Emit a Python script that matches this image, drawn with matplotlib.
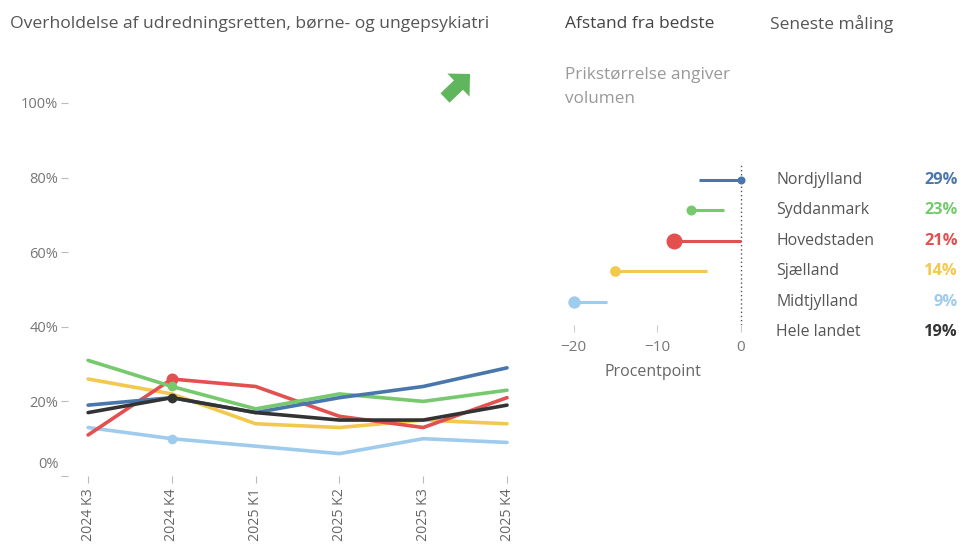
import matplotlib
matplotlib.use("Agg")
import matplotlib.pyplot as plt
import matplotlib.transforms as mtrans
from matplotlib.patches import FancyArrow

plt.rcParams['font.family'] = ['Open Sans', 'DejaVu Sans']

# data
quarters = ["2024 K3", "2024 K4", "2025 K1", "2025 K2", "2025 K3", "2025 K4"]
regions = ["Nordjylland", "Syddanmark", "Hovedstaden", "Sjælland", "Midtjylland", "Hele landet"]
colors = ["#4a77ab", "#77c96e", "#e3504f", "#f2c94c", "#9fcbec", "#333333"]

nordjylland = [19, 21, 17, 21, 24, 29]
syddanmark = [31, 24, 18, 22, 20, 23]
hovedstaden = [11, 26, 24, 16, 13, 21]
sjaelland = [26, 22, 14, 13, 15, 14]
midtjylland = [13, 10, 8, 6, 10, 9]
hele_landet = [17, 21, 17, 15, 15, 19]
series = [nordjylland, syddanmark, hovedstaden, sjaelland, midtjylland, hele_landet]

latest = ["29%", "23%", "21%", "14%", "9%", "19%"]

# afstand fra bedste (procentpoint), prik + streg-ende, prikstørrelse
dist_dot = [0, -6, -8, -15, -20]
dist_end = [-5, -2, 0, -4, -16]
dot_size = [5.8, 7.2, 11.5, 7.7, 8.9]

W, H = 960, 547
fig = plt.figure(figsize=(W / 100, H / 100), dpi=100)

# ---- line chart ----
ax = fig.add_axes([68 / W, (H - 476) / H, (520 - 68) / W, (476 - 103) / H])
x = list(range(len(quarters)))
order = [4, 3, 2, 1, 0, 5]
for i in order:
    ax.plot(x, series[i], color=colors[i], lw=2.6, solid_capstyle='round', clip_on=False, zorder=2 + order.index(i))
# markers at 2024 K4
for i, ms in [(2, 8.6), (1, 7), (4, 7), (5, 7)]:
    ax.plot(x[1], series[i][1], 'o', color=colors[i], ms=ms, mec='none', clip_on=False, zorder=10 if i == 5 else 3 + order.index(i))

ax.set_xlim(-0.24, 5.155)
ax.set_ylim(0, 100)
ax.set_yticks([0, 20, 40, 60, 80, 100])
ax.set_yticklabels(["0%", "20%", "40%", "60%", "80%", "100%"])
ax.set_xticks(x)
ax.set_xticklabels(quarters, rotation=90, va='top', ha='center')
ax.tick_params(axis='y', length=5, width=0.8, color='#bbbbbb', labelcolor='#777777', labelsize=10.5, pad=2)
ax.tick_params(axis='x', length=5, width=0.8, color='#bbbbbb', labelcolor='#666666', labelsize=10.2, pad=4)
for s in ax.spines.values():
    s.set_visible(False)
lbl0 = ax.get_yticklabels()[0]
lbl0.set_transform(lbl0.get_transform() + mtrans.ScaledTranslation(0, 0.13, fig.dpi_scale_trans))

fig.text(10 / W, 1 - 24 / H, "Overholdelse af udredningsretten, børne- og ungepsykiatri",
         fontsize=12.6, color='#555555', va='center', ha='left')

# green arrow
fig.add_artist(FancyArrow(4.45, (H - 98) / 100, 0.25, 0.24, width=0.13, head_width=0.32,
                          head_length=0.16, length_includes_head=True, color='#5fb65d',
                          lw=0, transform=fig.dpi_scale_trans))

# ---- afstand fra bedste ----
ax2 = fig.add_axes([557 / W, (H - 325) / H, (749 - 557) / W, (325 - 163) / H])
rows = list(range(len(dist_dot)))
for r in rows:
    ax2.plot([dist_dot[r], dist_end[r]], [r, r], color=colors[r], lw=2.2, solid_capstyle='butt', zorder=2)
    ax2.plot(dist_dot[r], r, 'o', color=colors[r], ms=dot_size[r], mec='none', zorder=3)
ax2.axvline(0, color='#555555', lw=1, ls=(0, (1, 2)), zorder=1)
ax2.set_xlim(-22, 1)
ax2.set_ylim(4.77, -0.56)
ax2.set_yticks([])
ax2.set_xticks([-20, -10, 0])
ax2.tick_params(axis='x', length=5, width=0.8, color='#cccccc', labelcolor='#777777', labelsize=11, pad=6)
for s in ax2.spines.values():
    s.set_visible(False)
ax2.set_xlabel("Procentpoint", fontsize=11.5, color='#666666', labelpad=6)

fig.text(565 / W, 1 - 24 / H, "Afstand fra bedste", fontsize=12.5, color='#444444', va='center')
fig.text(565 / W, 1 - 75 / H, "Prikstørrelse angiver", fontsize=12.3, color='#999999', va='center')
fig.text(565 / W, 1 - 99 / H, "volumen", fontsize=12.3, color='#999999', va='center')
fig.text(770 / W, 1 - 24 / H, "Seneste måling", fontsize=12.5, color='#555555', va='center')

# region names and latest values
tr = mtrans.blended_transform_factory(fig.transFigure, ax2.transData)
for i, name in enumerate(regions):
    ax2.text(776 / W, i, name, transform=tr, fontsize=11.4, color='#555555', va='center', ha='left', clip_on=False)
    ax2.text(958 / W, i, latest[i], transform=tr, fontsize=11.8, color=colors[i], fontweight='bold',
             va='center', ha='right', clip_on=False)

fig.savefig("out.png", dpi=100)
